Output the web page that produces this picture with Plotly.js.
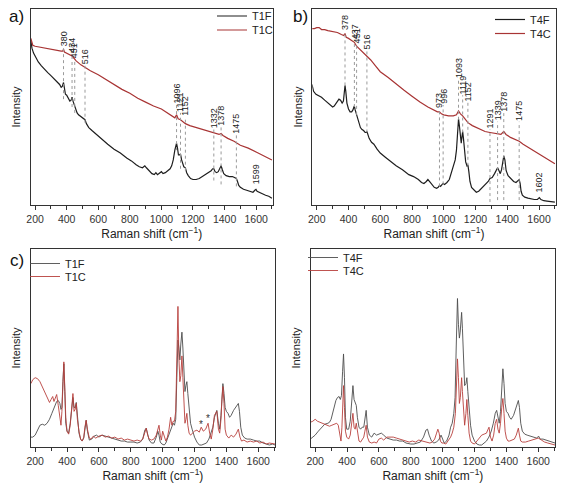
<!DOCTYPE html>
<html>
<head>
<meta charset="utf-8">
<script src="https://cdn.plot.ly/plotly-3.0.1.min.js"></script>
<style>html,body{margin:0;padding:0;background:#fff;}#chart{width:568px;height:488px;}</style>
</head>
<body>
<div id="chart"></div>
<script>
// ---------- Panel a: T1F / T1C raw spectra ----------
var aFx = [173,180,190,200,220,240,260,280,300,320,340,355,365,372,380,386,392,400,410,420,428,434,440,446,451,458,466,475,490,505,516,525,540,560,580,600,630,660,700,740,780,810,840,860,880,895,905,920,940,955,965,975,985,1000,1010,1025,1040,1055,1065,1075,1085,1090,1096,1102,1108,1114,1121,1128,1135,1142,1152,1160,1170,1185,1200,1220,1240,1260,1280,1300,1315,1325,1332,1340,1350,1360,1370,1378,1386,1395,1410,1430,1450,1465,1475,1482,1490,1500,1520,1540,1560,1580,1592,1599,1606,1620,1640,1660,1680,1700];
var aFy = [84,80,77.5,76,73,71,69,67.5,66,64.5,63,61.5,60,60.5,62.5,59,56.5,56,54.5,53,53.5,55,53,51.5,51,49,47,46,45,44,43.5,41.5,39.5,38,36.5,35,33,31,28.5,26.5,24,22.5,20.5,19.5,19,20,19,17.5,16,15.5,16.5,15.5,16,17,16,16.5,17.5,18.5,20,23,28,30.5,31.5,29,25.5,25.5,26,23,20.5,19.5,19,16.5,15,13.5,13,13,13.5,14.5,15.5,16.5,17.5,18.5,18.5,17,16.5,17,18.5,20,18,16,15,14.5,14.5,14,13.5,12,10,9,8,7.5,7,6.5,7.5,8,7,6.5,5.5,5,4.5,3.5];
var aCx = [173,185,200,230,260,300,340,365,375,380,386,400,420,434,445,460,490,516,550,600,650,700,750,800,850,900,950,1000,1040,1070,1085,1096,1106,1121,1135,1152,1180,1220,1260,1300,1340,1365,1378,1390,1420,1460,1500,1550,1600,1650,1700];
var aCy = [85,81.5,81,80.5,80,79.5,79,78.5,78.5,79.5,78,77.5,76.5,76,75,73.5,71.5,70,68.5,66.5,64,61.5,59,57,54.5,52.5,50.5,49,47,45.5,44.5,46,44,43.5,42.5,41.5,40.5,39.5,38.5,37.5,36.5,36,36.5,35.5,34,32.5,30.5,29,27,25,23];
var aPeaks    = [380,434,451,516,1096,1121,1152,1332,1378,1475,1599];
var aLabelY   = [80.5,77,74.5,71,51,47,45,38.5,40,36,10];
var aLineBot  = [54,50,47,42,28,18.5,17.5,12.5,10.5,9.5,null];

// ---------- Panel b: T4F / T4C raw spectra ----------
var bFx = [170,180,195,210,230,250,270,290,300,310,320,330,340,350,360,368,374,378,383,390,400,410,420,428,434,437,442,447,451,458,466,475,485,495,505,512,516,522,530,545,560,580,600,630,660,700,740,780,810,840,860,875,890,900,910,925,940,955,965,973,980,990,996,1005,1020,1035,1050,1062,1072,1080,1087,1093,1099,1105,1110,1115,1119,1124,1130,1138,1146,1152,1158,1165,1175,1190,1205,1220,1240,1260,1280,1291,1305,1320,1332,1339,1348,1356,1364,1372,1378,1385,1393,1405,1420,1440,1455,1468,1475,1481,1487,1495,1510,1530,1550,1570,1590,1602,1612,1630,1650,1670,1700];
var bFy = [61.5,58,56.5,56,55,53.5,52,50.5,50,50.5,51.5,53,54,53.5,52,53,57,61,58,52,49,47.5,47.5,48.5,50,50.5,48.5,47,46.5,45,42,39.5,38.5,38,37,37,37.5,36,34,32,31,28.5,26.5,24.5,22.5,20,18,15.5,14.5,13,11.5,11,12,13,12,10.5,9,8.5,9,10,9.5,10.5,11,10.5,11.5,13,17,20,23,28,38,44,40,32,31.5,35,37.5,34,27,22,20,20.5,17,12,9,7.5,6.5,7,8.5,10,12,13.5,14,16,18.5,19,17.5,16,18,22.5,25,23,17.5,15,13.5,12,11.5,12.5,13,11,7,5,4,3.5,3,2.8,2.8,3.8,2.8,2.2,2,1.8,1.5];
var bCx = [170,185,200,215,230,250,270,300,330,355,370,378,386,400,420,437,451,470,490,516,540,570,600,650,700,750,800,850,900,940,960,973,985,1000,1030,1060,1080,1093,1105,1119,1135,1152,1180,1220,1260,1291,1320,1339,1360,1378,1392,1420,1450,1475,1500,1550,1600,1650,1700];
var bCy = [90,90,90.5,90.5,89.5,89.5,89,88.5,88,87,86.5,87.5,85.5,85,84,83,81,79.5,78,76,74,71,68,65,61.5,58.5,55.5,52.5,50,48.5,47.5,47.5,46.5,46,45.5,45.5,46,48,46.5,45.5,43.5,42,40.5,39,37.5,37,36.5,36.5,36,37.5,36,34.5,33.5,32.5,31,28.5,26,23.5,21];
var bPeaks   = [378,437,451,516,973,996,1093,1119,1152,1291,1339,1378,1475,1602];
var bLabelY  = [88.5,84,82,79,49,51,64,56,52.5,38.5,42.5,47,42.5,6];
var bLineBot = [61,50,46,37,9.5,10.5,43.5,37,20,1.5,2.5,2.5,2.5,null];

// ---------- Panel c: T1F / T1C baseline-corrected ----------
var cFx = [173,185,200,215,230,245,260,275,290,305,320,335,345,355,362,368,374,380,386,392,400,410,420,428,437,444,451,458,465,475,485,495,505,512,520,528,540,555,570,585,600,620,640,660,680,700,720,740,760,780,800,820,840,860,875,888,897,906,915,930,945,960,970,977,985,995,1010,1020,1030,1040,1050,1058,1066,1074,1082,1089,1096,1102,1108,1114,1121,1127,1133,1140,1146,1152,1158,1166,1175,1185,1200,1215,1230,1245,1260,1275,1290,1305,1315,1325,1340,1350,1358,1366,1372,1378,1385,1392,1400,1410,1420,1430,1445,1460,1475,1482,1490,1500,1515,1530,1550,1570,1590,1610,1630,1650,1670,1690,1705];
var cFy = [5,5,6,8.5,11,11.5,11,12,14,17,20,23,23.5,22,19,20,33,42,28,12,8,7,12,20,25,20,20,22.5,15,7,4,3,4.5,10,13.5,8,3.5,4,5.5,6,5,6,5.5,5,4.5,4,3.5,3,3,2.5,2.5,2.5,2,2.5,4,8.5,9.5,7,3.5,2,2,5,8,6,2.5,1.5,1,2,4,6,8,10,12,11,14,35,54,50,44,52,58,50,35,28,31,33,27,18,12,9,5,2.5,1,1,1.5,2,4,7,10,15,18.5,12,9,16,27,32,27,20,18,17,15,16,18.5,20.5,22,18,10,6,4.5,4,4,3.5,3,3,2,1.5,1,1.5,1];
var cCx = [173,185,200,215,230,245,260,275,290,300,310,318,325,335,345,355,362,368,374,380,386,392,400,410,420,428,437,444,451,458,465,475,485,495,505,512,520,528,540,550,565,580,600,620,640,660,680,700,720,740,760,780,800,820,840,860,875,888,897,906,915,930,945,960,970,977,985,992,1000,1010,1020,1030,1040,1050,1058,1066,1074,1082,1089,1096,1102,1108,1114,1121,1127,1133,1140,1146,1152,1158,1166,1175,1185,1200,1215,1230,1242,1255,1270,1285,1295,1305,1315,1325,1340,1350,1358,1366,1372,1378,1385,1392,1400,1415,1430,1445,1460,1475,1485,1495,1510,1530,1550,1570,1590,1610,1630,1650,1670,1690,1705];
var cCy = [32,34,35,34.5,33,30.5,28,25,22.5,24,25.5,23,24.5,26.5,21,14,11,18,35,43,30,15,8,6.5,11,20,27,18,19,22,14,8,4,3,5,10,13.5,9,4.5,4,5.5,4.5,5.5,6,5,5.5,4.5,5,4,4.5,3.5,4,3.5,3,3.5,3,4,8,9.5,6,4,3.5,4,6,10,11,6,3.5,8,5,3,5,9,15,11,13,13,18,45,71,45,33,36,46,35,20,12,14,17,11,7,6,7,8,8.5,7.5,10,8,9,12,7,4,9,16,18,9,7,14,24,30.5,22,9,6,4.5,6,5,6.5,9,5,3,3.5,2.5,3,2.5,3,2,2.5,1.5,2,1.5,1.5];
var cMarks  = [1240,1287];
var cMarkY  = [11.5,14.5];

// ---------- Panel d: T4F / T4C baseline-corrected ----------
var dFx = [170,185,200,220,240,260,280,290,300,310,320,330,340,350,358,365,372,378,384,390,398,410,420,428,437,444,451,458,465,475,485,495,505,512,520,528,540,555,570,585,600,615,630,650,670,690,710,730,750,770,800,820,840,860,880,895,905,915,930,945,960,975,990,1000,1010,1025,1040,1050,1060,1070,1078,1085,1093,1099,1105,1110,1114,1119,1124,1130,1138,1146,1152,1158,1166,1175,1185,1200,1215,1230,1245,1260,1275,1290,1305,1318,1330,1339,1347,1355,1363,1371,1378,1385,1392,1400,1410,1420,1430,1445,1460,1470,1475,1482,1490,1500,1515,1530,1550,1570,1590,1602,1612,1630,1650,1670,1690,1705];
var dFy = [4,5,6,8,10,11.5,12,12.5,14,17.5,21,23.5,25,25.5,24,26,38,47,35,15,9,9,13,22,31,24,22,21,15,10,9,10,10,15,18.5,10,6,5,7,6,6.5,7,6,4.5,4,3.5,3.5,3,3,2,1.5,1.5,2,2.5,5,8.5,9,6,3,2,2.5,3.5,6,4,2,3,6,10,12,17,25,50,75,62,55,58,64,68,60,42,31,32,35,28,18,11,6,3,1.5,1,1,2,3,5,8,12,17,18.5,15,12,18,32,39.5,32,22,18,17,15,14,16,20,23,23.5,20,12,8,6.5,6,5.5,5,4.5,5.5,4,4,3.5,3,2.5,2];
var dCx = [170,185,200,215,230,245,260,275,290,305,320,335,345,355,362,368,374,378,384,390,398,410,420,428,437,444,451,458,465,475,485,495,505,512,520,528,540,555,570,585,600,615,630,650,670,690,710,730,750,770,790,810,830,850,870,890,905,920,935,950,962,970,978,986,995,1005,1020,1035,1050,1060,1070,1080,1087,1093,1099,1105,1111,1119,1124,1130,1138,1146,1152,1158,1166,1175,1185,1200,1215,1230,1245,1260,1275,1285,1291,1300,1310,1320,1330,1339,1347,1355,1363,1371,1378,1385,1392,1400,1410,1420,1435,1450,1462,1470,1475,1482,1490,1500,1520,1540,1560,1580,1600,1620,1640,1660,1680,1705];
var dCy = [12.5,13,14,13,12.5,12,11.5,11,10.5,11,11.5,12,11,7,3,10,25,31,20,8,5,4,6,12,17,10,9,12,7,3,2.5,3.5,5,8,11,5,2.5,2,2.5,2,4,4.5,3.5,5,5,5,4.5,4,3.5,3,2.5,3,2.5,3.5,3,2.5,2.5,2,2.5,4,7,9,7,3,2,2,1.5,3,5,7,10,17,35,44.5,35,22,25,35,28,17,11,17,24,16,7,3,2,1.5,3,5,6,6.5,7,9,10,5,3,6,12,14,9,7,12,20,24.5,17,8,4.5,3,3,3.5,4,6,8.5,9.5,6,3,2.5,2.5,3,3.5,4,4.5,3.5,2.5,2,1.5,1];

var names = ['T1F','T1C','T4F','T4C'];

// ---------- styles ----------
var FONT = 'Liberation Sans, Arial, sans-serif';
var darkLine = '#1e1e1e', redLine = '#a83434';
var grayThin = '#4d4d4d', redThin = '#b8403c';

function tr(x, y, name, color, width, xa, ya, leg) {
  return {x: x, y: y, name: name, type: 'scatter', mode: 'lines',
          line: {color: color, width: width}, xaxis: xa, yaxis: ya, legend: leg, hoverinfo: 'skip'};
}
var data = [
  tr(aFx, aFy, names[0], darkLine, 1.2, 'x', 'y', 'legend'),
  tr(aCx, aCy, names[1], redLine, 1.2, 'x', 'y', 'legend2'),
  tr(bFx, bFy, names[2], darkLine, 1.2, 'x2', 'y2', 'legend3'),
  tr(bCx, bCy, names[3], redLine, 1.2, 'x2', 'y2', 'legend4'),
  tr(cFx, cFy, names[0], grayThin, 0.9, 'x3', 'y3', 'legend5'),
  tr(cCx, cCy, names[1], redThin, 0.9, 'x3', 'y3', 'legend6'),
  tr(dFx, dFy, names[2], grayThin, 0.9, 'x4', 'y4', 'legend7'),
  tr(dCx, dCy, names[3], redThin, 0.9, 'x4', 'y4', 'legend8')
];

var W = 568, H = 488;
function px(v){return v/W;} function py(v){return 1 - v/H;}
var dom = {
  a: {x:[px(30.7), px(272.7)], y:[py(205), py(9)]},
  b: {x:[px(312.3), px(555.7)], y:[py(205), py(9)]},
  c: {x:[px(30.7), px(275)], y:[py(447), py(249)]},
  d: {x:[px(310.7), px(555)], y:[py(447), py(249)]}
};
function xax(d, anchor) {
  return {domain: d, anchor: anchor, range: [172, 1705], tick0: 0, dtick: 200,
    ticks: 'outside', ticklen: 4, tickwidth: 1, tickcolor: '#333',
    minor: {dtick: 100, ticks: 'outside', ticklen: 2.5, tickcolor: '#333'},
    showline: true, linecolor: '#333', linewidth: 1, mirror: true,
    showgrid: false, zeroline: false,
    tickfont: {family: FONT, size: 10.5, color: '#333'},
    title: {text: 'Raman shift (cm<sup>\u22121</sup>)', font: {family: FONT, size: 12, color: '#222'}, standoff: 1}};
}
function yax(d, anchor) {
  return {domain: d, anchor: anchor, range: [0, 100], showticklabels: false, ticks: '',
    showline: true, linecolor: '#333', linewidth: 1, mirror: true, showgrid: false, zeroline: false,
    title: {text: 'Intensity', font: {family: FONT, size: 11, color: '#222'}, standoff: 6}};
}

var annotations = [], shapes = [];
function peakMarks(peaks, labY, lineBot, xr, yr) {
  for (var i = 0; i < peaks.length; i++) {
    annotations.push({x: peaks[i], y: labY[i], xref: xr, yref: yr, text: String(peaks[i]),
      textangle: -90, showarrow: false, xanchor: 'center', yanchor: 'bottom', borderpad: 0,
      font: {family: FONT, size: 9, color: '#222'}});
    if (lineBot[i] !== null) {
      shapes.push({type: 'line', xref: xr, yref: yr, x0: peaks[i], x1: peaks[i], y0: lineBot[i], y1: labY[i],
        line: {color: '#9a9a9a', width: 1, dash: 'dot'}});
    }
  }
}
peakMarks(aPeaks, aLabelY, aLineBot, 'x', 'y');
peakMarks(bPeaks, bLabelY, bLineBot, 'x2', 'y2');
for (var k = 0; k < cMarks.length; k++) {
  annotations.push({x: cMarks[k], y: cMarkY[k], xref: 'x3', yref: 'y3', text: '*', showarrow: false,
    font: {family: FONT, size: 10, color: '#333'}});
}
[['a)', 16, 16], ['b)', 300, 16], ['c)', 17, 260]].forEach(function(p){
  annotations.push({text: p[0], x: px(p[1]), y: py(p[2]), xref: 'paper', yref: 'paper', showarrow: false,
    xanchor: 'center', yanchor: 'middle', font: {family: FONT, size: 17, color: '#111'}});
});

// one legend box per entry so each entry sits where the reference puts it
function leg(textLeft, centerY) {
  return {x: px(textLeft - 40), y: py(centerY - 14), xanchor: 'left', yanchor: 'top',
    bgcolor: 'rgba(0,0,0,0)', borderwidth: 0, itemwidth: 30,
    font: {family: FONT, size: 11, color: '#222'}};
}

var layout = {
  width: W, height: H, margin: {l: 0, r: 0, t: 0, b: 0},
  paper_bgcolor: '#fff', plot_bgcolor: '#fff', showlegend: true,
  xaxis: xax(dom.a.x, 'y'), yaxis: yax(dom.a.y, 'x'),
  xaxis2: xax(dom.b.x, 'y2'), yaxis2: yax(dom.b.y, 'x2'),
  xaxis3: xax(dom.c.x, 'y3'), yaxis3: yax(dom.c.y, 'x3'),
  xaxis4: xax(dom.d.x, 'y4'), yaxis4: yax(dom.d.y, 'x4'),
  legend: leg(252, 15.5), legend2: leg(252, 29.5),
  legend3: leg(530, 19), legend4: leg(530, 33),
  legend5: leg(65, 263), legend6: leg(65, 276),
  legend7: leg(343, 257), legend8: leg(343, 270),
  annotations: annotations, shapes: shapes
};
Plotly.newPlot('chart', data, layout, {displayModeBar: false, staticPlot: true});
</script>
</body>
</html>
